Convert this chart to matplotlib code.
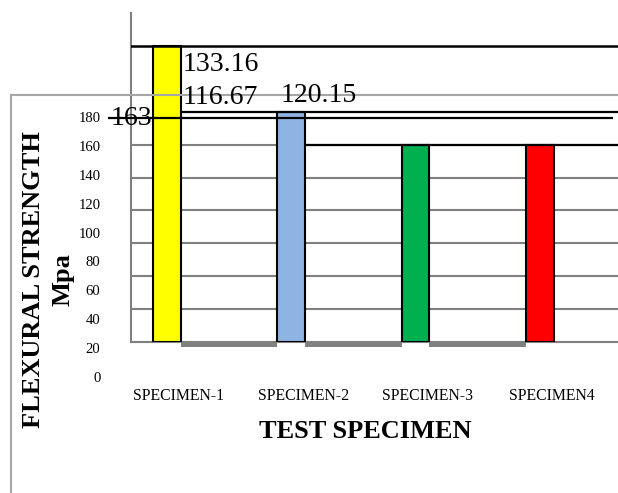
import matplotlib.pyplot as plt
from matplotlib.lines import Line2D
from matplotlib.transforms import ScaledTranslation

W, H = 618, 493

specimens = ['SPECIMEN-1', 'SPECIMEN-2', 'SPECIMEN-3', 'SPECIMEN4']
strength = [180, 140, 120, 120]
bar_colors = ['#FFFF00', '#8EB4E3', '#00B050', '#FF0000']
gap_values = [-3, -3, -3]
value_labels = ['163', '133.16', '116.67', '120.15']
tick_values = list(range(0, 181, 20))

plt.rcParams['font.family'] = ['Liberation Serif', 'DejaVu Serif']

fig = plt.figure(figsize=(W / 100, H / 100), dpi=100)


def fx(px):
    return px / W


def fy(py):
    return 1 - py / H


# main plotting area
ax = fig.add_axes([fx(131), fy(342), fx(618) - fx(131), fy(13) - fy(342)])
ax.set_xlim(-0.29, 3.63)
ax.set_ylim(0, 200)
bw = 0.225

ax.bar(range(len(strength)), strength, width=bw, color=bar_colors,
       edgecolor='black', linewidth=1.5, zorder=3)
ax.bar([i + 0.5 for i in range(len(gap_values))], gap_values, width=1 - bw,
       color='#808080', zorder=2, clip_on=False)

for v in tick_values[1:7]:
    ax.axhline(v, color='#808080', lw=1.5, zorder=1)

# stray black lines of the original rendering
xr = ax.get_xlim()[1]
ax.axhline(180, color='black', lw=1.8, zorder=4)
ax.hlines(140, 0 + bw / 2, xr, color='black', lw=1.6, zorder=4)
ax.hlines(120, 1 + bw / 2, xr, color='black', lw=1.6, zorder=4)
ax.hlines(136.3, -0.475, 3.588, color='black', lw=1.6, zorder=4, clip_on=False)

for s in ['top', 'right']:
    ax.spines[s].set_visible(False)
for s in ['left', 'bottom']:
    ax.spines[s].set_color('#808080')
    ax.spines[s].set_linewidth(1.5)

ax.set_yticks([])
ax.set_xticks(range(len(specimens)), specimens)
ax.tick_params(axis='x', length=0, pad=33, labelsize=11.3)
for lab in ax.get_xticklabels():
    lab.set_transform(lab.get_transform() + ScaledTranslation(0.12, 0, fig.dpi_scale_trans))

# y tick labels sit on their own (shifted) scale
ax2 = fig.add_axes([fx(131), fy(395), 0.01, fy(13) - fy(395)])
ax2.patch.set_visible(False)
for s in ax2.spines.values():
    s.set_visible(False)
ax2.set_xticks([])
ax2.set_ylim(-12.46, 252.0)
ax2.set_yticks(tick_values)
ax2.tick_params(axis='y', length=0, pad=22, labelsize=10.6)

# floating data labels
txt = dict(fontsize=20, va='baseline')
fig.text(fx(152), fy(125), value_labels[0], ha='right', **txt)
fig.text(fx(183), fy(71), value_labels[1], ha='left', **txt)
fig.text(fx(183), fy(104), value_labels[2], ha='left', **txt)
fig.text(fx(281), fy(102), value_labels[3], ha='left', **txt)

fig.text(fx(48), fy(280), 'FLEXURAL STRENGTH\nMpa', rotation=90, ha='center',
         va='center', multialignment='center', fontsize=19, fontweight='bold',
         linespacing=1.38)
fig.text(fx(365), fy(432), 'TEST SPECIMEN', ha='center', va='center',
         fontsize=19, fontweight='bold')

# outer frame
fig.add_artist(Line2D([fx(11), fx(11)], [fy(95), fy(493)], color='#A6A6A6', lw=1.5))
fig.add_artist(Line2D([fx(11), fx(618)], [fy(95), fy(95)], color='#A6A6A6', lw=1.5))

fig.savefig('out.png', dpi=100)
